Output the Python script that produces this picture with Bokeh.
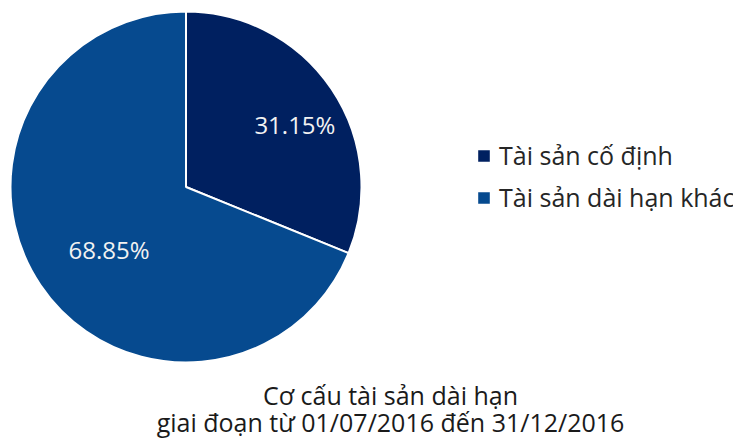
import numpy as np
from bokeh.plotting import figure
from bokeh.models import Range1d, Legend, LegendItem, Label, ColumnDataSource
from bokeh.core.properties import value
from bokeh.embed import file_html
from bokeh.resources import INLINE

categories = ["Tài sản cố định", "Tài sản dài hạn khác"]
shares = [31.15, 68.85]
share_labels = ["31.15%", "68.85%"]
colors = ["#002060", "#064A8F"]
title_lines = ["Cơ cấu tài sản dài hạn", "giai đoạn từ 01/07/2016 đến 31/12/2016"]

W, H = 733, 438
FONT = "Open Sans"

p = figure(width=W, height=H, output_backend="svg", toolbar_location=None,
           x_range=Range1d(0, W), y_range=Range1d(0, H), min_border=0)
p.axis.visible = False
p.grid.visible = False
p.outline_line_color = None

cx, cy, R = 185.5, 251.5, 175.5
frac = np.array(shares) / np.sum(shares)
cum = np.concatenate([[0], np.cumsum(frac)])
start = np.pi / 2 - 2 * np.pi * cum[:-1]
end = np.pi / 2 - 2 * np.pi * cum[1:]
mid = (start + end) / 2

src = ColumnDataSource(dict(start=start, end=end, color=colors))
pie = p.wedge(x=cx, y=cy, radius=R, start_angle="start", end_angle="end",
              direction="clock", fill_color="color", line_color="white",
              line_width=2, source=src)

r_lab = 0.638 * R
lab_src = ColumnDataSource(dict(x=cx + r_lab * np.cos(mid), y=cy + r_lab * np.sin(mid),
                                text=share_labels))
p.text(x="x", y="y", text="text", source=lab_src, x_offset=16,
       text_align="center", text_baseline="middle",
       text_font=value(FONT), text_font_size="24px", text_color="#F2F2F2")

items = [LegendItem(label=cat, renderers=[pie], index=i) for i, cat in enumerate(categories)]

legend = Legend(items=items, location=(475, 224), padding=0, margin=0, spacing=8,
                glyph_width=17, glyph_height=17, label_standoff=7,
                label_text_font=FONT, label_text_font_size="25px",
                label_text_color="#262626", border_line_color=None,
                background_fill_alpha=0)
p.add_layout(legend, "center")

p.add_layout(Label(x=390, y=44, text=title_lines[0], text_align="center",
                   text_baseline="middle", text_font=FONT, text_font_size="25px",
                   text_color="#1A1A1A"))
p.add_layout(Label(x=390, y=17, text=title_lines[1], text_align="center",
                   text_baseline="middle", text_font=FONT, text_font_size="25px",
                   text_color="#1A1A1A"))

open("out.html", "w").write(file_html(p, INLINE))
